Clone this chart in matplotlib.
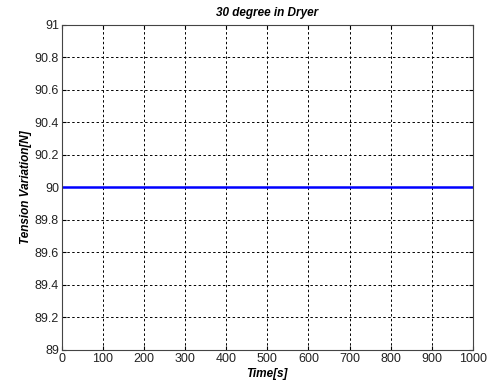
import numpy as np
import matplotlib
matplotlib.use("Agg")
import matplotlib.pyplot as plt

plt.rcParams['font.family'] = ['Liberation Sans', 'DejaVu Sans']

time_s = [0, 1000]
tension = [90, 90]
xticks = [0, 100, 200, 300, 400, 500, 600, 700, 800, 900, 1000]
yticks = [89, 89.2, 89.4, 89.6, 89.8, 90, 90.2, 90.4, 90.6, 90.8, 91]

fig = plt.figure(figsize=(4.91, 3.88), dpi=100)
ax = fig.add_axes([0.126, 0.098, 0.837, 0.838])
ax.plot(time_s, tension, color='#0000ff', linewidth=1.8)
ax.set_xlim(0, 1000)
ax.set_ylim(89, 91)
ax.set_xticks(xticks)
ax.set_yticks(yticks)
ax.set_yticklabels([f"{v:g}" for v in yticks])
ax.tick_params(direction='in', labelsize=9, length=3, top=True, right=True, pad=2,
               labelcolor='#222222')
ax.grid(True, color='black', linestyle=(0, (2.5, 2.5)), linewidth=0.7)
for s in ax.spines.values():
    s.set_linewidth(0.8)
    s.set_color('#444444')
ax.set_title("30 degree in Dryer", fontsize=8.5, fontweight='bold', fontstyle='italic', pad=6)
ax.set_xlabel("Time[s]", fontsize=8.5, fontweight='bold', fontstyle='italic', labelpad=2)
ax.set_ylabel("Tension Variation[N]", fontsize=8.5, fontweight='bold', fontstyle='italic', labelpad=2)
fig.savefig("out.png", dpi=100)
